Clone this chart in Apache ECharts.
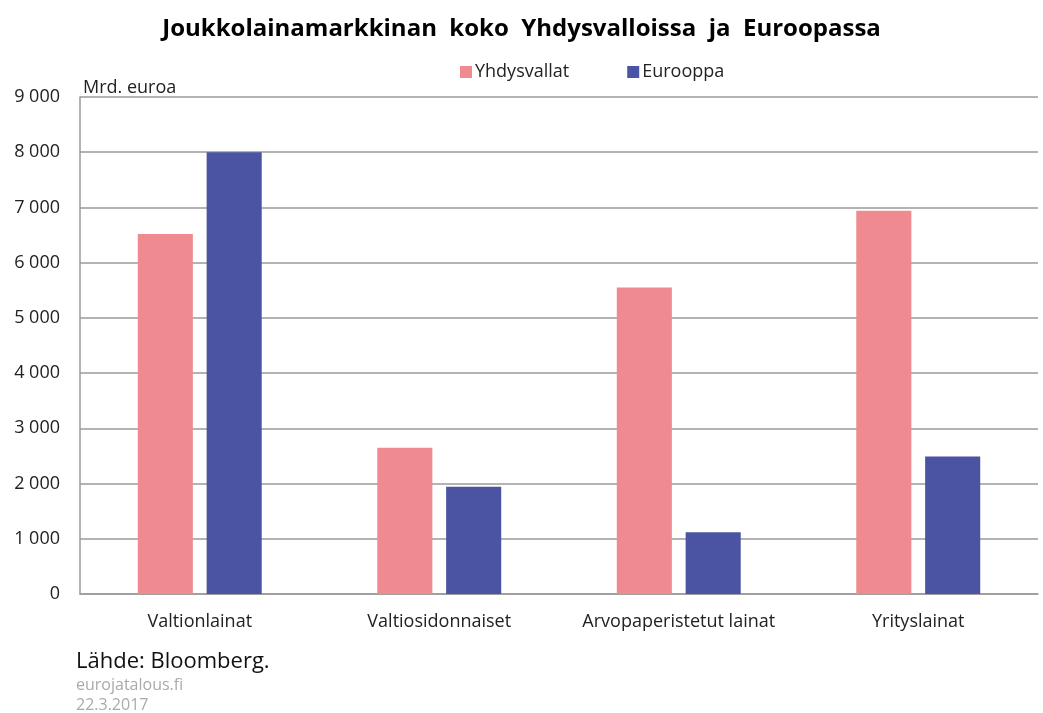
<!DOCTYPE html>
<html>
<head>
<meta charset="utf-8">
<script src="https://cdn.jsdelivr.net/npm/echarts@6/dist/echarts.min.js"></script>
<style>html,body{margin:0;padding:0;background:#fff;}#c{width:1043px;height:713px;}</style>
</head>
<body>
<div id="c"></div>
<script>
var categories = ['Valtionlainat', 'Valtiosidonnaiset', 'Arvopaperistetut lainat', 'Yrityslainat'];
var yhdysvallat = [6520, 2650, 5550, 6940];
var eurooppa = [8000, 1940, 1120, 2490];
var seriesNames = ['Yhdysvallat', 'Eurooppa'];

var FONT = '"Open Sans", sans-serif';
var chart = echarts.init(document.getElementById('c'));
chart.setOption({
  animation: false,
  title: {
    text: 'Joukkolainamarkkinan  koko  Yhdysvalloissa  ja  Euroopassa',
    left: 'center', top: 12,
    textStyle: { fontFamily: FONT, fontSize: 24, fontWeight: 'bold', color: '#000' }
  },
  legend: {
    data: seriesNames,
    left: 455, top: 58,
    itemWidth: 12, itemHeight: 12, itemGap: 58,
    icon: 'rect',
    textStyle: { fontFamily: FONT, fontSize: 18, color: '#222', padding: [0, 0, 0, -2] }
  },
  grid: { left: 80, right: 5, top: 97, bottom: 119, containLabel: false },
  xAxis: {
    type: 'category',
    data: categories,
    axisTick: { show: false },
    axisLine: { lineStyle: { color: '#9a9a9a', width: 1.5 } },
    axisLabel: { fontFamily: FONT, fontSize: 18, color: '#222', margin: 19, interval: 0 }
  },
  yAxis: {
    type: 'value', min: 0, max: 9000, interval: 1000,
    axisLine: { show: true, lineStyle: { color: '#9a9a9a', width: 1.5 } },
    axisTick: { show: false },
    splitLine: { lineStyle: { color: '#9a9a9a', width: 1.5 } },
    axisLabel: {
      fontFamily: FONT, fontSize: 18, color: '#222', margin: 20,
      formatter: function (v) { return String(v).replace(/\B(?=(\d{3})+(?!\d))/g, ' '); }
    }
  },
  series: [
    { name: seriesNames[0], type: 'bar', data: yhdysvallat, barWidth: '23%', barGap: '25%',
      itemStyle: { color: '#EF8A90' } },
    { name: seriesNames[1], type: 'bar', data: eurooppa, barWidth: '23%', barGap: '25%',
      itemStyle: { color: '#4A54A3' } }
  ],
  graphic: [
    { type: 'text', left: 83, top: 79, style: { text: 'Mrd. euroa', font: '18px ' + FONT, fill: '#222' } },
    { type: 'text', left: 76, top: 651, style: { text: 'Lähde: Bloomberg.', font: '22px ' + FONT, fill: '#111' } },
    { type: 'text', left: 76, top: 677, style: { text: 'eurojatalous.fi', font: '16px ' + FONT, fill: '#aaa' } },
    { type: 'text', left: 76, top: 697, style: { text: '22.3.2017', font: '16px ' + FONT, fill: '#aaa' } }
  ]
});
</script>
</body>
</html>
